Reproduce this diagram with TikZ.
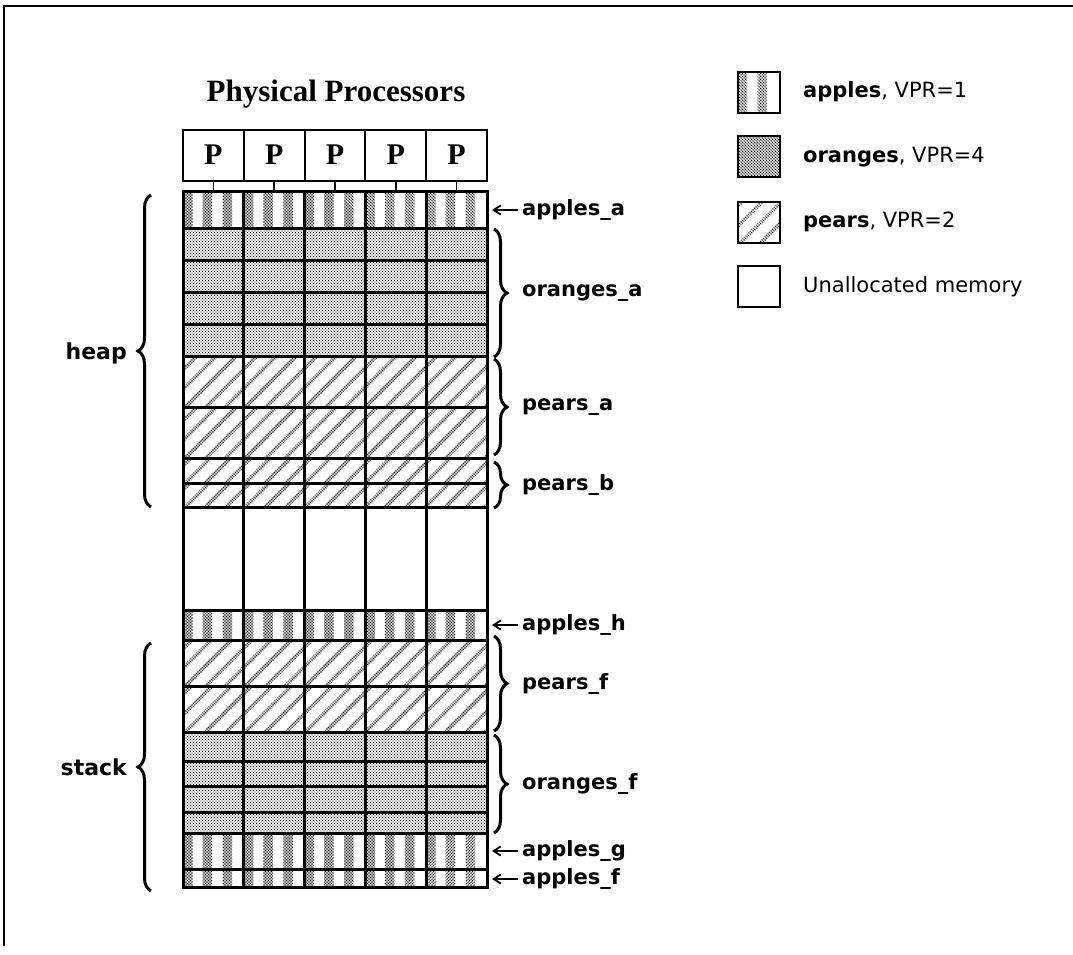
\documentclass[tikz,border=0pt]{standalone}
\usepackage{fontspec}
\usetikzlibrary{patterns,decorations.pathreplacing,arrows.meta}
\newfontfamily\labfont{DejaVu Sans}
\newfontfamily\timfont{Liberation Serif}
\pgfdeclarepatternformonly{lightstip}{\pgfqpoint{-1pt}{-1pt}}{\pgfqpoint{2.5pt}{2.5pt}}{\pgfqpoint{3pt}{3pt}}{%
  \pgfpathcircle{\pgfqpoint{0pt}{0pt}}{.62pt}%
  \pgfpathcircle{\pgfqpoint{1.5pt}{1.5pt}}{.62pt}%
  \pgfusepath{fill}}
\pgfdeclarepatternformonly{heavystip}{\pgfqpoint{-1pt}{-1pt}}{\pgfqpoint{2.5pt}{2.5pt}}{\pgfqpoint{3pt}{3pt}}{%
  \pgfpathcircle{\pgfqpoint{0pt}{0pt}}{.76pt}%
  \pgfpathcircle{\pgfqpoint{1.5pt}{1.5pt}}{.76pt}%
  \pgfusepath{fill}}
\newcommand\applesrow[2]{%
  \begin{scope}
    \clip (183,#1) rectangle (487,#2);
    \foreach \cc in {183,243.8,304.6,365.4,426.2}{
      \foreach \oo in {0,19.5,39.5}{
        \fill[bandstip] (\cc+\oo,#1) rectangle (\cc+\oo+9.5,#2);
      }}
  \end{scope}}
\newcommand\pearsrow[2]{%
  \begin{scope}
    \clip (183,#1) rectangle (487,#2);
    \foreach \kk in {0,...,26}{
      \fill[bandstip] (23+20*\kk,#2) -- ++(5,0) -- ++(#2-#1,#1-#2) -- ++(-5,0) -- cycle;
    }
  \end{scope}}
\begin{document}
\begin{tikzpicture}[x=1pt,y=-1pt,
  stipple/.style={pattern=lightstip, pattern color=black},
  bandstip/.style={pattern=heavystip, pattern color=black},
  gridline/.style={line width=3pt},
  lab/.style={font=\labfont\bfseries\fontsize{21}{25}\selectfont, anchor=west, inner sep=0pt},
  side/.style={font=\labfont\bfseries\fontsize{22}{26}\selectfont, anchor=east, inner sep=0pt},
  legtext/.style={font=\labfont\fontsize{21}{25}\selectfont, anchor=west, inner sep=0pt},
  procbox/.style={draw, line width=2pt, minimum width=60.8pt, minimum height=51pt, inner sep=0pt,
    font=\timfont\bfseries\fontsize{30}{34}\selectfont},
  curly/.style={decorate, decoration={brace, amplitude=13pt}, line width=3pt},
  larrow/.style={-{Straight Barb[length=7pt,width=9pt]}, line width=1.8pt, shorten <=4pt},
  legbox/.style={line width=2.5pt},
]
\useasboundingbox (0,0) rectangle (1073,954);
% frame
\draw[line width=2.2pt] (1073,6) -- (4,6) -- (4,946);
% title
\node[font=\timfont\bfseries\fontsize{31}{35}\selectfont, anchor=base, inner sep=0pt] (title) at (336,101) {Physical Processors};
% processors
\foreach \i/\x in {1/213.4,2/274.2,3/335,4/395.8,5/456.6}{
  \node[procbox] (P\i) at (\x,155) {P};
  \coordinate (g\i) at (\x,191);
  \draw[line width=1.5pt] (P\i.south) -- (g\i);
}
% fills
\applesrow{191}{228}
\fill[stipple] (183,228) rectangle (487,356);
\pearsrow{356}{407}
\pearsrow{407}{458}
\pearsrow{458}{483}
\pearsrow{483}{507}
\applesrow{610}{640}
\pearsrow{640}{686}
\pearsrow{686}{732}
\fill[stipple] (183,732) rectangle (487,833);
\applesrow{833}{869}
\applesrow{869}{887}
% grid
\foreach \y in {228,260,292,324,356,407,458,483,507,610,640,686,732,761,786,812,833,869}{
  \draw[gridline] (183,\y) -- (487,\y);
}
\foreach \x in {243.8,304.6,365.4,426.2}{
  \draw[gridline] (\x,191) -- (\x,887);
}
\draw[gridline] (183,191) rectangle (487,887);
% left braces
\coordinate (hb1) at (151,195);
\coordinate (hb2) at (151,507);
\draw[curly] (hb2) -- (hb1);
\node[side] (heap) at (127,353) {heap};
\coordinate (sb1) at (151,643);
\coordinate (sb2) at (151,891);
\draw[curly] (sb2) -- (sb1);
\node[side] (stack) at (127,767) {stack};
% right braces
\foreach \n/\a/\b/\t in {oa/229/357/oranges\_a, pa/359/455/pears\_a, pb/462/508/pears\_b, pf/636/731/pears\_f, of/735/833/oranges\_f}{
  \coordinate (\n1) at (494,\a);
  \coordinate (\n2) at (494,\b);
  \draw[curly] (\n1) -- (\n2);
  \node[lab] (\n) at (522,{(\a+\b)/2}) {\t};
}
% arrows
\foreach \n/\y/\t in {aa/210/apples\_a, ah/625/apples\_h, ag/851/apples\_g, af/879/apples\_f}{
  \coordinate (\n0) at (492,\y);
  \node[lab] (\n) at (522,\y) {\t};
  \draw[larrow] (\n.west) -- (\n.west -| \n0);
}
% legend
\begin{scope}
  \clip (738,72) rectangle (780,113);
  \foreach \oo in {0,19.5}{\fill[bandstip] (738+\oo,72) rectangle (738+\oo+9,113);}
\end{scope}
\draw[legbox] (738,72) rectangle (780,113);
\fill[bandstip] (738,136) rectangle (780,177);
\draw[legbox] (738,136) rectangle (780,177);
\begin{scope}
  \clip (738,202) rectangle (780,243);
  \foreach \kk in {0,...,5}{
    \fill[bandstip] (698+20*\kk,243) -- ++(5,0) -- ++(41,-41) -- ++(-5,0) -- cycle;
  }
\end{scope}
\draw[legbox] (738,202) rectangle (780,243);
\draw[legbox] (738,266) rectangle (780,307);
\node[legtext] (l1) at (803,92) {{\bfseries apples}, VPR=1};
\node[legtext] (l2) at (803,157) {{\bfseries oranges}, VPR=4};
\node[legtext] (l3) at (803,222) {{\bfseries pears}, VPR=2};
\node[legtext] (l4) at (803,287) {Unallocated memory};
\end{tikzpicture}
\end{document}
